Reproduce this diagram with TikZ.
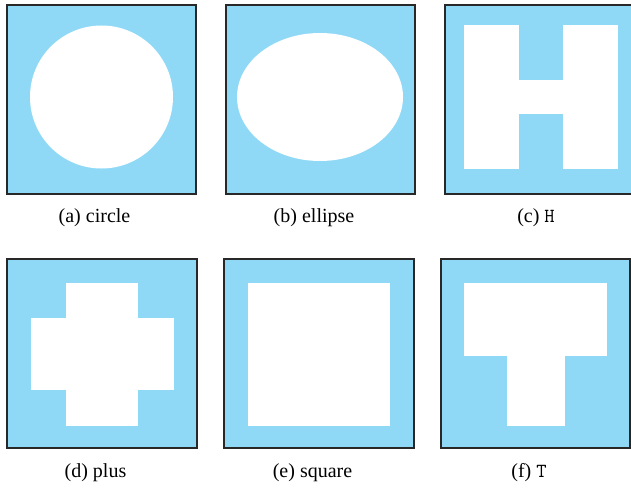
\documentclass[tikz,border=0pt]{standalone}
\usepackage{fontspec}
\setmainfont{Liberation Serif}
\definecolor{panelblue}{RGB}{143,217,247}
\definecolor{frame}{RGB}{40,40,40}
\begin{document}
\begin{tikzpicture}[x=1pt,y=-1pt,
  panel/.style={fill=panelblue,draw=frame,line width=1.6pt},
  caplabel/.style={font=\fontsize{20}{24}\selectfont,inner sep=0pt}]
\useasboundingbox (0,0) rectangle (631,487);
% (a) circle
\draw[panel] (7,5) rectangle (196,194);
\fill[white] (101.5,97) circle (71.5);
\node[caplabel] (la) at (94.5,218) {(a) circle};
% (b) ellipse
\draw[panel] (226,5) rectangle (415,194);
\fill[white] (320,97) ellipse [x radius=83,y radius=64];
\node[caplabel] (lb) at (314,218) {(b) ellipse};
% (c) H
\draw[panel] (445,5) rectangle (634,194);
\fill[white] (464,25) rectangle (519,169);
\fill[white] (563,25) rectangle (618,169);
\fill[white] (518.5,80) rectangle (563.5,114);
\node[caplabel] (lc) at (536,218) {(c) \texttt{H}};
% (d) plus
\draw[panel] (7,259) rectangle (197,448);
\fill[white] (66,283) rectangle (138,426);
\fill[white] (31,318) rectangle (174,390);
\node[caplabel] (ld) at (95.5,472.5) {(d) plus};
% (e) square
\draw[panel] (224,259) rectangle (414,448);
\fill[white] (248,283) rectangle (390,426);
\node[caplabel] (le) at (312.5,472.5) {(e) square};
% (f) T
\draw[panel] (441,259) rectangle (630,448);
\fill[white] (464,283) rectangle (607,355.5);
\fill[white] (507,355) rectangle (565,426);
\node[caplabel] (lf) at (529,472.5) {(f) \texttt{T}};
\end{tikzpicture}
\end{document}
